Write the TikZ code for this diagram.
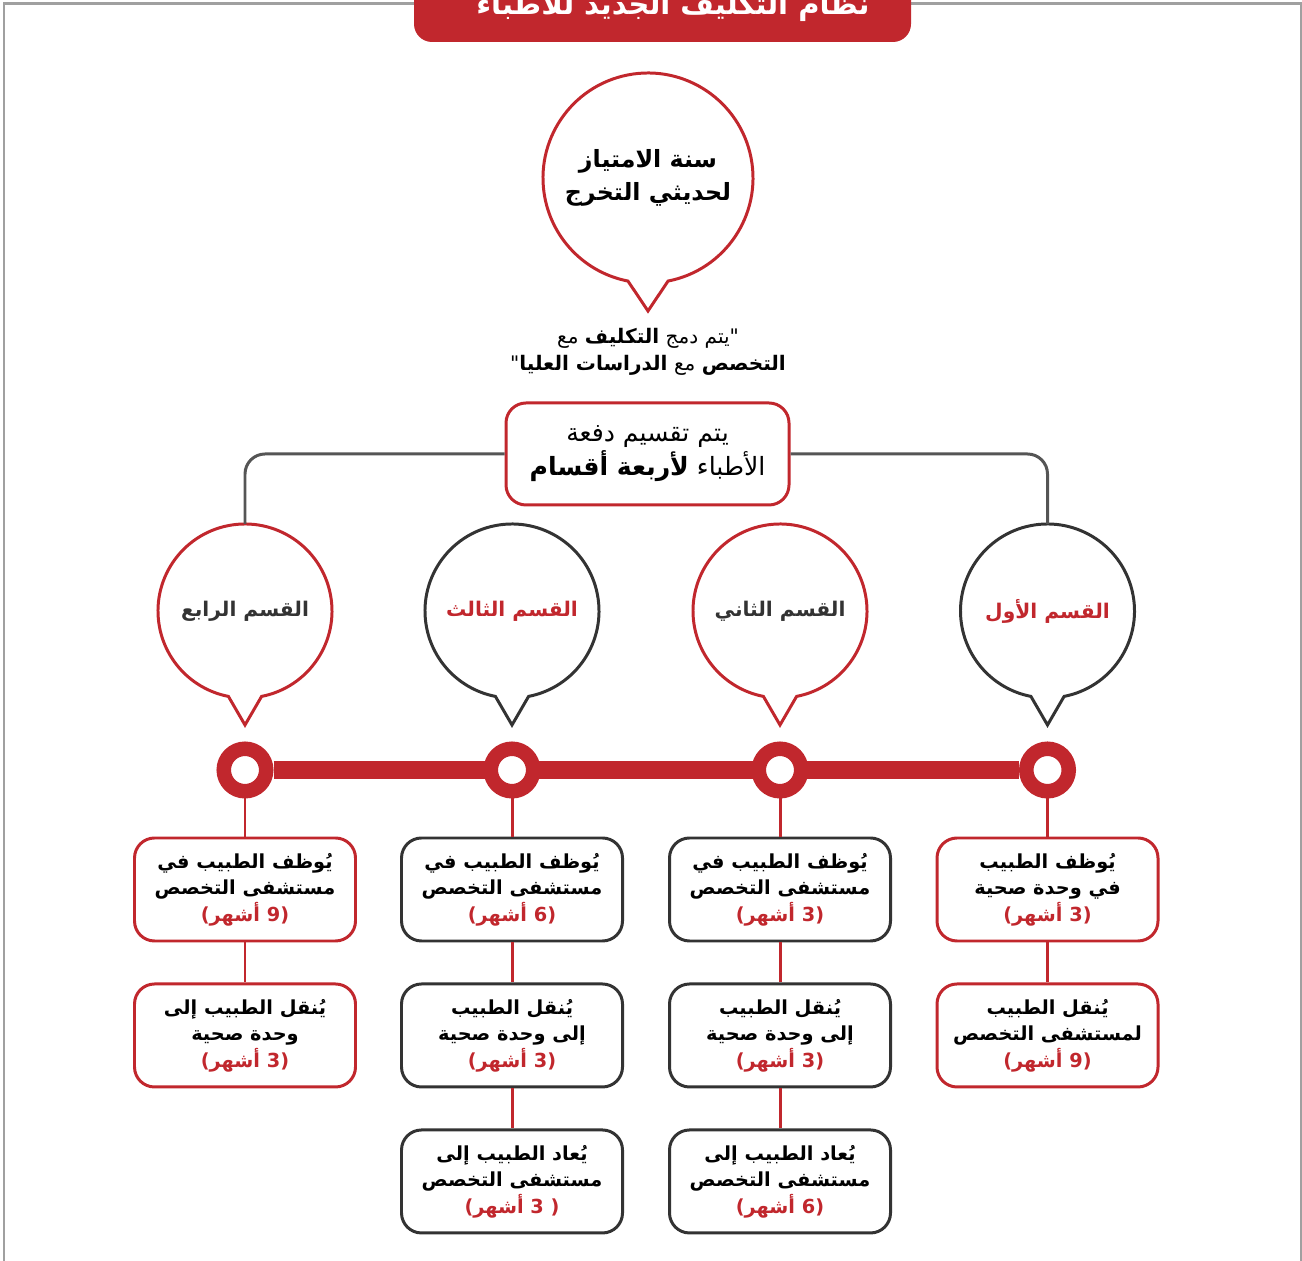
\documentclass[tikz,border=0pt]{standalone}
\usepackage{fontspec}
\usepackage{tikz}
\usetikzlibrary{positioning,calc,backgrounds}
\newfontfamily\arabicfont[Script=Arabic]{DejaVu Sans}
\newfontfamily\latinfont{DejaVu Sans}
\TeXXeTstate=1
\definecolor{darkred}{RGB}{193,39,45}
\definecolor{darkline}{RGB}{51,51,51}
\definecolor{framegray}{RGB}{160,160,160}
\definecolor{linkgray}{RGB}{85,85,85}
\newcommand{\rl}[1]{\beginR#1\endR}
\newcommand{\mo}[2][]{\textcolor{darkred}{{\latinfont\bfseries(}\rl{أشهر}{\latinfont\bfseries\ #2#1)}}}

\begin{document}
\begin{tikzpicture}[
    redrim/.style={draw=darkred, line width=1.7pt},
    darkrim/.style={draw=darkline, line width=1.7pt},
    bubble/.style={circle, minimum size=3.48cm, inner sep=0pt, outer sep=0pt, align=center,
        font=\arabicfont\bfseries\fontsize{11.5}{14}\selectfont},
    stepbox/.style={rectangle, rounded corners=0.4cm, minimum width=4.42cm, minimum height=2.06cm,
        fill=white, align=center, font=\arabicfont\bfseries\fontsize{11}{15}\selectfont},
    ring/.style={circle, draw=darkred, line width=0.29cm, fill=white, minimum size=0.85cm, inner sep=0pt},
    link/.style={darkred, line width=1.7pt}
]
    \useasboundingbox (0,0) rectangle (26.04,25.2);
    \draw[framegray, line width=1.7pt] (0.08,-0.5) -- (0.08,25.12) -- (26.02,25.12) -- (26.02,-0.5);

    % Title banner
    \fill[darkred, rounded corners=0.36cm] (8.28,24.36) rectangle (18.22,26);
    \node[anchor=base, text=white, font=\arabicfont\bfseries\fontsize{16.5}{20}\selectfont] (title) at (13.46,24.9)
        {\rl{نظام التكليف الجديد للأطباء}};

    % Internship year
    \node[bubble, minimum size=4.2cm, font=\arabicfont\bfseries\fontsize{13.5}{18.8}\selectfont] (intern) at (12.96,21.64)
        {\rl{سنة الامتياز}\\\rl{لحديثي التخرج}};
    \draw[redrim] (intern.-79) arc[start angle=-79, end angle=259, radius=2.1] -- ($(intern.south)+(0,-0.56)$) -- cycle;

    \node[align=center, font=\arabicfont\fontsize{11.4}{15.4}\selectfont] (quote) at (12.96,18.17)
        {\rl{"يتم دمج \textbf{التكليف} مع}\\\rl{\textbf{التخصص} مع \textbf{الدراسات العليا}"}};

    \node[redrim, rounded corners=0.4cm, minimum width=5.66cm, minimum height=2.04cm, align=center,
        font=\arabicfont\fontsize{14.3}{19.4}\selectfont] (split) at (12.95,16.12)
        {\rl{يتم تقسيم دفعة}\\\rl{الأطباء \textbf{لأربعة أقسام}}};

    % Four sections
    \foreach \nm/\xx/\rim/\tc/\lbl in {q4/4.9/darkred/darkline/القسم الرابع, q3/10.24/darkline/darkred/القسم الثالث,
        q2/15.6/darkred/darkline/القسم الثاني, q1/20.95/darkline/darkred/القسم الأول} {
        \node[bubble, text=\tc] (\nm) at (\xx,12.98) {\rl{\lbl}};
        \draw[draw=\rim, line width=1.7pt] (\nm.-79) arc[start angle=-79, end angle=259, radius=1.74]
            -- ($(\nm.south)+(0,-0.54)$) -- cycle;
    }
    \draw[linkgray, line width=1.7pt, rounded corners=0.4cm] (split.west) -| (q4.north);
    \draw[linkgray, line width=1.7pt, rounded corners=0.4cm] (split.east) -| (q1.north);

    % Timeline
    \foreach \nm/\xx in {r4/4.9, r3/10.24, r2/15.6, r1/20.95}
        \node[ring] (\nm) at (\xx,9.8) {};
    \begin{scope}[on background layer]
        \draw[darkred, line width=0.36cm] (r4) -- (r1);
    \end{scope}

    % Section 4
    \node[stepbox, redrim] (s41) at (4.9,7.41) {\rl{يُوظف الطبيب في}\\\rl{مستشفى التخصص}\\\mo{9}};
    \node[stepbox, redrim, below=0.8cm of s41] (s42) {\rl{يُنقل الطبيب إلى}\\\rl{وحدة صحية}\\\mo{3}};

    % Section 3
    \node[stepbox, darkrim] (s31) at (10.24,7.41) {\rl{يُوظف الطبيب في}\\\rl{مستشفى التخصص}\\\mo{6}};
    \node[stepbox, darkrim, below=0.8cm of s31] (s32) {\rl{يُنقل الطبيب}\\\rl{إلى وحدة صحية}\\\mo{3}};
    \node[stepbox, darkrim, below=0.8cm of s32] (s33) {\rl{يُعاد الطبيب إلى}\\\rl{مستشفى التخصص}\\\mo[\ ]{3}};

    % Section 2
    \node[stepbox, darkrim] (s21) at (15.6,7.41) {\rl{يُوظف الطبيب في}\\\rl{مستشفى التخصص}\\\mo{3}};
    \node[stepbox, darkrim, below=0.8cm of s21] (s22) {\rl{يُنقل الطبيب}\\\rl{إلى وحدة صحية}\\\mo{3}};
    \node[stepbox, darkrim, below=0.8cm of s22] (s23) {\rl{يُعاد الطبيب إلى}\\\rl{مستشفى التخصص}\\\mo{6}};

    % Section 1
    \node[stepbox, redrim] (s11) at (20.95,7.41) {\rl{يُوظف الطبيب}\\\rl{في وحدة صحية}\\\mo{3}};
    \node[stepbox, redrim, below=0.8cm of s11] (s12) {\rl{يُنقل الطبيب}\\\rl{لمستشفى التخصص}\\\mo{9}};

    \draw[link] (r4.south) -- (s41) -- (s42);
    \draw[link] (r3.south) -- (s31) -- (s32) -- (s33);
    \draw[link] (r2.south) -- (s21) -- (s22) -- (s23);
    \draw[link] (r1.south) -- (s11) -- (s12);
\end{tikzpicture}
\end{document}
